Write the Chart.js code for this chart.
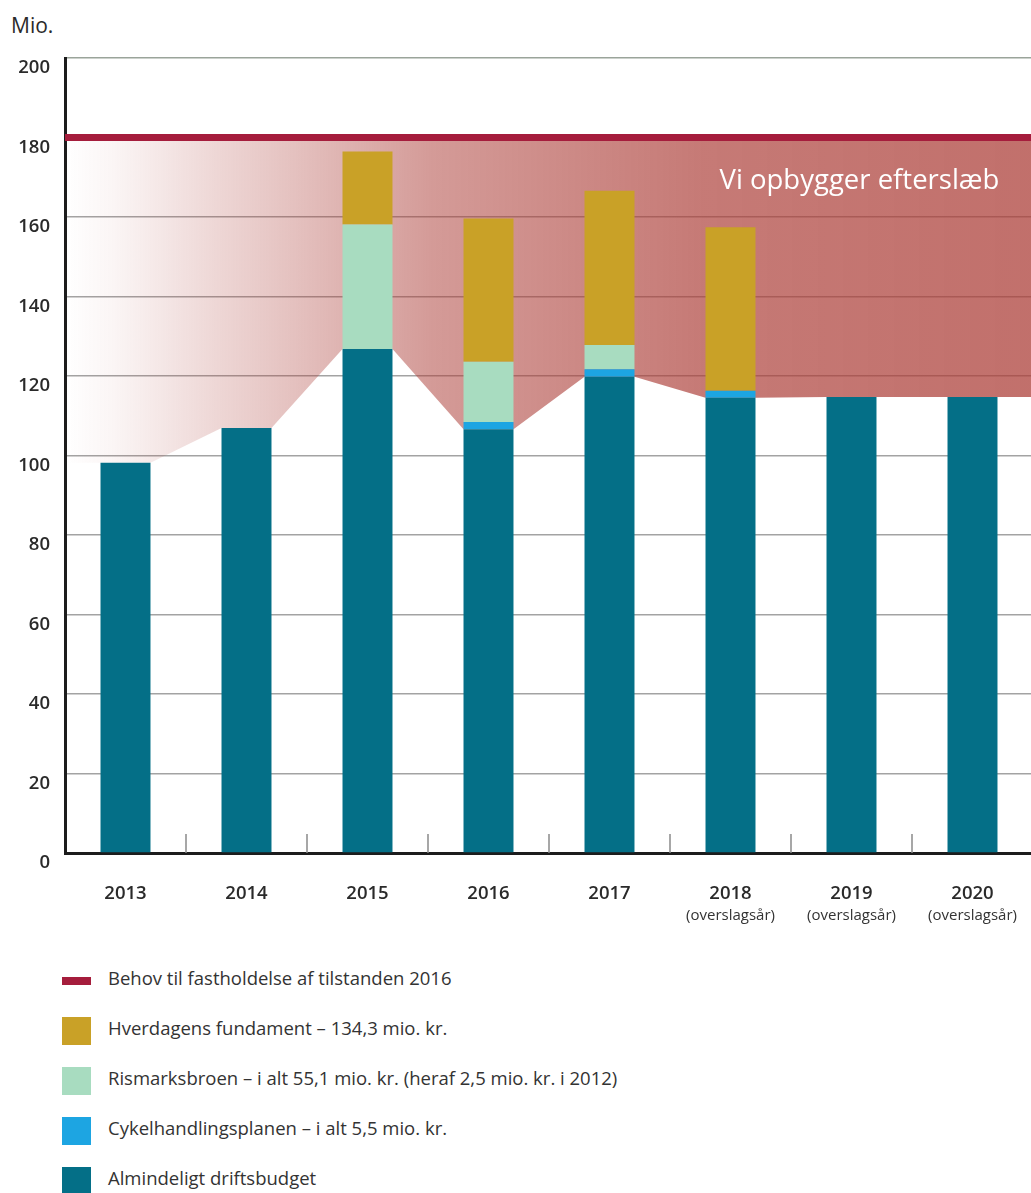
<!DOCTYPE html>
<html>
<head>
<meta charset="utf-8">
<script src="https://cdn.jsdelivr.net/npm/chart.js@4"></script>
<style>
  body { margin: 0; background: #fff; width: 1031px; height: 1193px; overflow: hidden; position: relative;
         font-family: 'Open Sans', sans-serif; color: #333; }
  #wrap { position: absolute; left: 0; top: 0; width: 1035px; height: 940px; }
  #unit { position: absolute; left: 11px; top: 11px; font-size: 21px; color: #2a2a2a; }
  #legend { position: absolute; left: 62px; top: 964px; }
  .item { position: relative; height: 50px; }
  .box { position: absolute; left: 0; top: 3px; width: 29px; height: 28px; }
  .box.line { top: 13px; height: 8px; }
  .txt { position: absolute; left: 46px; top: 1px; font-size: 18.5px; white-space: nowrap; color: #333; }
</style>
</head>
<body>
<div id="unit">Mio.</div>
<div id="wrap"><canvas id="chart"></canvas></div>
<div id="legend"></div>
<script>
document.addEventListener("DOMContentLoaded", () => {

  const YEARS = ['2013', '2014', '2015', '2016', '2017', '2018', '2019', '2020'];
  const SUBLABELS = ['', '', '', '', '', '(overslagsår)', '(overslagsår)', '(overslagsår)'];
  const ALMINDELIGT = [98.2, 106.9, 126.8, 106.6, 119.8, 114.5, 114.7, 114.7];
  const CYKEL = [null, null, null, 1.8, 1.9, 1.8, null, null];
  const RISMARK = [null, null, 31.3, 15.2, 6.1, null, null, null];
  const HVERDAG = [null, null, 18.4, 36.0, 38.8, 41.1, null, null];
  const BEHOV = 180;
  const NOTE = 'Vi opbygger efterslæb';

  const LEGEND = [
    ['Behov til fastholdelse af tilstanden 2016', '#a51d3c', true],
    ['Hverdagens fundament – 134,3 mio. kr.', '#c9a127', false],
    ['Rismarksbroen – i alt 55,1 mio. kr. (heraf 2,5 mio. kr. i 2012)', '#a8dcc0', false],
    ['Cykelhandlingsplanen – i alt 5,5 mio. kr.', '#1da5e2', false],
    ['Almindeligt driftsbudget', '#046f87', false]
  ];

  const BAR_PCT = 0.413;

  // lower edge of the shaded area follows the tops of the base bars
  const areaPts = [{x: 0, y: ALMINDELIGT[0]}];
  ALMINDELIGT.forEach((v, i) => {
    areaPts.push({x: i + 0.5 - BAR_PCT / 2, y: v});
    areaPts.push({x: i + 0.5 + BAR_PCT / 2, y: v});
  });
  areaPts.push({x: YEARS.length, y: ALMINDELIGT[ALMINDELIGT.length - 1]});

  const areaFill = c => {
    const a = c.chart.chartArea;
    if (!a) return 'rgba(0,0,0,0)';
    const g = c.chart.ctx.createLinearGradient(a.left, 0, a.right, 0);
    g.addColorStop(0, 'rgba(172,62,56,0)');
    g.addColorStop(0.05, 'rgba(172,62,56,0.05)');
    g.addColorStop(0.15, 'rgba(172,62,56,0.2)');
    g.addColorStop(0.38, 'rgba(172,62,56,0.52)');
    g.addColorStop(0.66, 'rgba(172,62,56,0.69)');
    g.addColorStop(1, 'rgba(172,62,56,0.74)');
    return g;
  };

  const extras = {
    id: 'extras',
    afterDatasetsDraw(chart) {
      const {ctx, chartArea: a, scales: {x, y}} = chart;
      ctx.save();
      // small separators on the x axis
      ctx.strokeStyle = '#8a8a8a';
      ctx.lineWidth = 1.5;
      for (let i = 0; i < YEARS.length - 1; i++) {
        const px = (x.getPixelForValue(i) + x.getPixelForValue(i + 1)) / 2;
        ctx.beginPath();
        ctx.moveTo(px, a.bottom);
        ctx.lineTo(px, a.bottom - 19);
        ctx.stroke();
      }
      ctx.fillStyle = '#fff';
      ctx.font = '27.5px "Open Sans", sans-serif';
      ctx.textAlign = 'left';
      ctx.textBaseline = 'middle';
      ctx.fillText(NOTE, x.getPixelForValue(5) - 11, y.getPixelForValue(169));
      ctx.restore();
    },
    afterDraw(chart) {
      const {ctx, chartArea: a, scales: {x}} = chart;
      ctx.save();
      ctx.fillStyle = '#333';
      ctx.font = '15px "Open Sans", sans-serif';
      ctx.textAlign = 'center';
      ctx.textBaseline = 'middle';
      SUBLABELS.forEach((s, i) => {
        if (s) ctx.fillText(s, x.getPixelForValue(i), a.bottom + 63);
      });
      ctx.restore();
    }
  };

  const bar = (label, data, color) => ({
    type: 'bar', label, data, backgroundColor: color, stack: 'budget', grouped: false, order: 0
  });

  new Chart(document.getElementById('chart'), {
    type: 'bar',
    data: {
      labels: YEARS,
      datasets: [
        bar('Almindeligt driftsbudget', ALMINDELIGT, LEGEND[4][1]),
        bar('Cykelhandlingsplanen', CYKEL, LEGEND[3][1]),
        bar('Rismarksbroen', RISMARK, LEGEND[2][1]),
        bar('Hverdagens fundament', HVERDAG, LEGEND[1][1]),
        {type: 'line', label: 'Behov', data: [{x: 0, y: BEHOV}, {x: YEARS.length, y: BEHOV}],
          xAxisID: 'xa', yAxisID: 'ya', stack: 'behov', borderColor: LEGEND[0][1], borderWidth: 7,
          pointRadius: 0, fill: false, order: 1},
        {type: 'line', label: 'efterslæb', data: areaPts, xAxisID: 'xa', yAxisID: 'ya', stack: 'area',
          borderWidth: 0, pointRadius: 0, tension: 0, fill: {value: BEHOV},
          backgroundColor: areaFill, order: 2}
      ]
    },
    options: {
      responsive: true,
      maintainAspectRatio: false,
      animation: false,
      layout: {padding: {top: 58, right: 2, left: 0, bottom: 0}},
      plugins: {legend: {display: false}, tooltip: {enabled: false}},
      datasets: {bar: {barPercentage: BAR_PCT, categoryPercentage: 1}},
      scales: {
        x: {
          stacked: true,
          grid: {display: false},
          border: {display: true, width: 3, color: '#1c1c1c'},
          ticks: {padding: 22, color: '#2a2a2a', font: {family: 'Open Sans', size: 18.5, weight: '600'}},
          afterFit: s => { s.height = 87; }
        },
        y: {
          stacked: true,
          min: 0, max: 200,
          grid: {
            drawTicks: false,
            lineWidth: 1.5,
            color: c => c.tick.value === 200 ? '#9aa49a' : '#a3a3a3'
          },
          border: {display: true, width: 3, color: '#1c1c1c'},
          ticks: {stepSize: 20, padding: 15, labelOffset: 10, color: '#2a2a2a',
                  font: {family: 'Open Sans', size: 18.5, weight: '600'}},
          afterFit: s => { s.width = 65; }
        },
        xa: {type: 'linear', display: false, min: 0, max: YEARS.length, offset: false},
        ya: {type: 'linear', display: false, min: 0, max: 200}
      }
    },
    plugins: [extras]
  });

  const leg = document.getElementById('legend');
  LEGEND.forEach(([name, color, isLine]) => {
    const it = document.createElement('div');
    it.className = 'item';
    it.innerHTML = `<div class="box${isLine ? ' line' : ''}" style="background:${color}"></div>` +
                   `<div class="txt">${name}</div>`;
    leg.appendChild(it);
  });
});
</script>
</body>
</html>
